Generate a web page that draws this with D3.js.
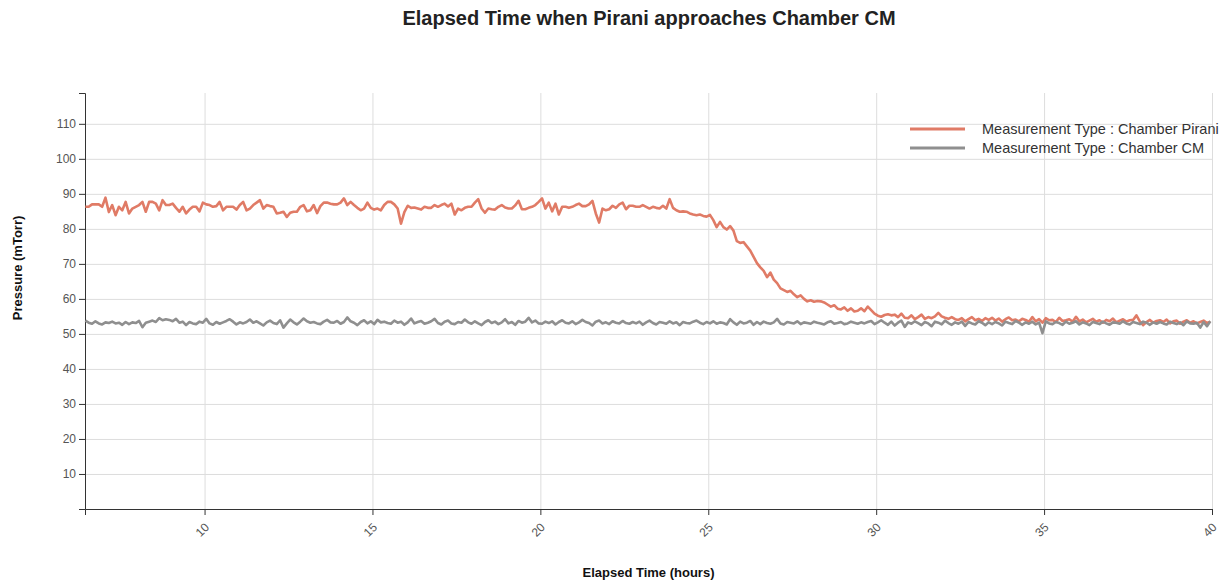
<!DOCTYPE html>
<html>
<head>
<meta charset="utf-8">
<script src="https://cdn.jsdelivr.net/npm/d3@7"></script>
<style>
  body { margin: 0; background: #fff; }
  svg { font-family: "Liberation Sans", Arial, sans-serif; }
  .grid line { stroke: #ddd; stroke-width: 1; }
  .grid path { display: none; }
  .axis text { fill: #555; font-size: 12px; }
  .axis path, .axis line { stroke: #333; }
</style>
</head>
<body>
<div id="chart"></div>
<script>
// sampling of the two measurements (hours)
let startHour = 6.45, stepHour = 0.1;

let seriesNames = ["Measurement Type : Chamber Pirani", "Measurement Type : Chamber CM"];
let seriesColors = ["#e07b66", "#8f8f8f"];

// Chamber Pirani pressure (mTorr)
let piraniValues = [
  86.3, 86.3, 87.0, 87.0, 87.0, 86.3, 88.9, 84.8, 86.8, 83.9, 86.3, 85.3, 87.7, 84.4, 85.8, 86.3, 86.8, 87.7, 84.9, 87.7,
  87.7, 87.2, 85.3, 88.2, 86.8, 86.8, 87.2, 86.0, 84.9, 86.3, 84.4, 85.5, 86.3, 86.3, 85.0, 87.5, 87.0, 86.8, 86.3, 86.5,
  87.7, 85.3, 86.3, 86.3, 86.3, 85.5, 86.8, 87.7, 85.3, 85.8, 86.8, 87.5, 88.2, 85.8, 86.8, 86.5, 86.3, 84.4, 84.6, 84.9,
  83.4, 84.6, 84.9, 84.9, 86.3, 86.8, 85.0, 85.3, 86.8, 84.5, 86.5, 87.5, 87.5, 87.2, 87.0, 87.0, 87.5, 88.7, 86.8, 87.7,
  86.8, 86.0, 85.3, 85.8, 87.5, 86.0, 85.5, 85.8, 85.3, 86.8, 87.7, 87.7, 87.0, 85.8, 81.5, 84.8, 86.6, 86.0, 86.1, 85.8,
  85.5, 86.3, 86.0, 86.0, 86.8, 86.3, 86.8, 87.2, 86.4, 87.2, 84.1, 85.8, 85.3, 86.0, 86.3, 86.3, 87.5, 88.5, 85.8, 84.6,
  85.8, 85.6, 85.5, 86.3, 86.8, 86.1, 85.8, 85.8, 86.7, 88.0, 85.6, 85.6, 86.0, 86.3, 86.8, 87.7, 88.7, 85.8, 87.5, 85.0,
  87.2, 84.1, 86.3, 86.3, 86.0, 86.3, 86.8, 87.2, 86.5, 86.5, 87.0, 88.0, 84.4, 81.8, 85.8, 85.3, 85.6, 86.6, 86.0, 87.0,
  87.5, 85.6, 86.6, 86.6, 86.3, 86.3, 86.8, 86.3, 85.8, 86.3, 86.0, 85.8, 86.6, 85.8, 88.5, 86.0, 85.3, 84.9, 85.0, 84.9,
  84.4, 84.1, 83.9, 84.1, 83.7, 83.5, 84.0, 82.5, 80.5, 82.0, 80.5, 79.8, 80.8, 79.5, 76.5, 76.0, 76.2, 75.0, 73.8, 72.0,
  70.2, 69.0, 68.0, 66.2, 67.5, 65.5, 64.5, 63.0, 62.5, 62.0, 62.3, 61.3, 60.5, 61.0, 60.0, 59.3, 59.6, 59.2, 59.4, 59.3,
  59.0, 58.4, 57.8, 58.2, 57.2, 57.0, 57.6, 56.6, 57.3, 56.4, 56.6, 57.3, 56.5, 57.8, 56.8, 55.8, 55.2, 54.9, 55.4, 55.6,
  55.3, 55.5, 54.8, 55.8, 54.6, 54.5, 55.3, 54.2, 54.8, 55.5, 54.3, 54.8, 54.5, 55.0, 56.0, 55.0, 54.6, 54.3, 54.8, 54.2,
  54.0, 54.5, 53.6, 54.2, 54.8, 53.9, 54.3, 53.7, 54.5, 54.0, 54.6, 53.8, 54.4, 53.5, 54.2, 54.7, 53.9, 54.1, 53.6, 54.3,
  54.0, 53.5, 54.8, 53.6, 54.2, 53.2, 54.5, 53.9, 54.0, 53.4, 54.6, 53.7, 53.9, 54.2, 53.5, 54.9, 53.6, 54.1, 53.3, 53.8,
  54.3, 53.5, 53.9, 53.2, 54.0, 53.6, 54.4, 53.3, 53.8, 54.2, 53.5, 53.9, 54.0, 55.3, 53.6, 52.5, 53.4, 54.0, 53.2, 53.7,
  53.9, 53.4, 54.1, 53.0, 53.6, 53.8, 52.9, 53.5, 53.9, 53.2, 53.6, 53.0, 53.4, 53.8, 53.1, 53.5
];

// Chamber CM pressure (mTorr)
let cmValues = [
  53.8, 53.2, 52.9, 53.6, 53.0, 52.7, 53.3, 53.1, 53.5, 53.0, 53.2, 52.6, 53.4, 52.8, 53.3, 53.1, 53.7, 51.9, 53.2, 53.5,
  53.8, 53.4, 54.5, 53.9, 54.2, 54.0, 53.6, 54.3, 53.2, 53.5, 52.5, 53.4, 53.0, 52.8, 53.5, 53.2, 54.3, 53.0, 52.6, 53.4,
  52.9, 53.3, 53.7, 54.2, 53.5, 52.7, 53.3, 53.0, 53.4, 54.1, 53.2, 53.6, 53.0, 52.4, 53.3, 53.8, 53.1, 52.8, 53.9, 51.8,
  53.0, 54.1, 53.3, 52.7, 53.5, 54.4, 53.6, 53.2, 53.4, 53.0, 52.8, 53.5, 54.0, 53.3, 53.2, 53.7, 52.9, 53.4, 54.7, 53.6,
  53.2, 52.5, 53.4, 53.9, 53.0, 53.6, 52.8, 54.0, 53.3, 53.5, 53.1, 52.9, 53.8, 53.2, 53.5, 52.6, 53.3, 54.4, 53.0, 53.4,
  53.7, 52.9, 53.2, 53.6, 54.3, 53.1, 52.7, 53.5, 53.8, 53.0, 52.8, 53.4, 53.2, 54.1, 53.3, 52.9, 53.6, 53.0, 52.5, 53.4,
  53.9, 53.1, 53.5, 52.8, 53.3, 54.2, 53.0, 53.4, 52.6, 53.7, 53.2, 53.5, 54.6, 53.3, 53.8, 53.0, 52.9, 53.5, 53.1, 53.6,
  52.7, 53.4, 53.9, 53.2, 53.0, 53.6, 52.8, 53.3, 54.0, 53.4, 53.1, 52.4, 53.5, 53.8, 53.0, 53.3, 52.8, 53.6, 53.2, 53.0,
  53.7, 53.1, 52.9, 53.4, 53.0, 53.5, 52.6, 53.3, 53.8, 53.1, 52.7, 53.4, 53.2, 52.9, 53.6, 53.0, 53.3, 52.5, 53.4, 53.1,
  53.0, 53.5, 53.8, 53.2, 52.8, 53.4, 53.0, 53.6, 52.9, 53.3, 53.1, 52.7, 54.2, 53.3, 52.6, 53.5, 53.0, 53.2, 53.7, 52.6,
  53.4, 52.8, 53.5, 53.1, 52.9, 53.3, 54.3, 53.0, 52.7, 53.4, 53.2, 53.0, 53.6, 52.8, 53.3, 53.1, 52.9, 53.5, 53.2, 53.0,
  52.7, 53.3, 53.6, 52.9, 53.1, 53.4, 52.8, 53.0, 53.5, 53.2, 52.9, 53.3, 53.0, 53.4, 53.7, 52.8, 53.3, 53.9, 53.2, 52.6,
  53.5, 52.4, 53.2, 53.8, 52.0, 53.3, 52.9, 53.6, 53.1, 52.5, 53.4, 53.0, 52.2, 53.5, 53.2, 52.7, 53.8, 53.1, 52.6, 53.3,
  52.9, 53.5, 52.3, 53.4, 53.0, 52.7, 53.6, 53.2, 52.5, 53.3, 52.8, 53.4, 53.0, 52.4, 53.5, 53.1, 52.8, 53.7, 53.2, 52.6,
  53.3, 52.9, 53.5, 52.7, 53.2, 50.2, 53.6, 53.0, 52.8, 53.4, 53.1, 52.6, 53.5, 52.9, 53.2, 53.6, 52.7, 53.3, 53.0, 52.5,
  53.4, 53.1, 52.8, 53.5, 53.0, 52.6, 53.3, 53.2, 52.9, 53.6, 53.0, 52.7, 53.4, 53.1, 52.8, 53.5, 53.2, 52.6, 53.3, 52.9,
  53.4, 53.0, 52.7, 53.5, 53.1, 52.8, 53.3, 52.5, 53.6, 53.0, 52.9, 53.2, 51.8, 53.4, 52.2, 53.6
];

let xTickValues = [10, 15, 20, 25, 30, 35, 40];
let yTickValues = [10, 20, 30, 40, 50, 60, 70, 80, 90, 100, 110];

// set the dimensions and margins of the graph
let margin = { top: 93, right: 14, bottom: 75, left: 85 },
  fullWidth = 1226, fullHeight = 584,
  width = fullWidth - margin.left - margin.right,
  height = fullHeight - margin.top - margin.bottom;

let svg = d3.select("#chart")
  .append("svg")
  .attr("width", fullWidth)
  .attr("height", fullHeight);

let g = svg.append("g")
  .attr("transform", "translate(" + margin.left + "," + margin.top + ")");

let x = d3.scaleLinear().domain([6.44, 40]).range([0, width]);
let y = d3.scaleLinear().domain([0, 118.8]).range([height, 0]);

// grid lines
g.append("g")
  .attr("class", "grid")
  .attr("transform", "translate(0," + height + ")")
  .call(d3.axisBottom(x).tickValues(xTickValues).tickSize(-height).tickFormat(""));
g.append("g")
  .attr("class", "grid")
  .call(d3.axisLeft(y).tickValues(yTickValues).tickSize(-width).tickFormat(""));

// axes
let xAxis = g.append("g")
  .attr("class", "axis")
  .attr("transform", "translate(0," + height + ")")
  .call(d3.axisBottom(x).tickValues(xTickValues).tickSizeOuter(6));
xAxis.selectAll("text")
  .attr("text-anchor", "end")
  .attr("x", 0).attr("y", 0).attr("dy", "0.35em")
  .attr("transform", "translate(2,16) rotate(-45)");

g.append("g")
  .attr("class", "axis")
  .call(d3.axisLeft(y).tickValues(yTickValues).tickSizeOuter(6));

// lines
let line = d3.line()
  .x(function (d, i) { return x(startHour + i * stepHour); })
  .y(function (d) { return y(d); });

[piraniValues, cmValues].forEach(function (vals, k) {
  g.append("path")
    .datum(vals)
    .attr("fill", "none")
    .attr("stroke", seriesColors[k])
    .attr("stroke-width", 2.6)
    .attr("stroke-linejoin", "round")
    .attr("d", line);
});

// title and axis labels
svg.append("text")
  .attr("x", 649).attr("y", 25)
  .attr("text-anchor", "middle")
  .style("font-size", "20px").style("font-weight", "bold").style("fill", "#222")
  .text("Elapsed Time when Pirani approaches Chamber CM");

svg.append("text")
  .attr("transform", "translate(22,268) rotate(-90)")
  .attr("text-anchor", "middle")
  .style("font-size", "13px").style("font-weight", "bold").style("fill", "#111")
  .text("Pressure (mTorr)");

svg.append("text")
  .attr("x", margin.left + width / 2).attr("y", 577)
  .attr("text-anchor", "middle")
  .style("font-size", "13px").style("font-weight", "bold").style("fill", "#111")
  .text("Elapsed Time (hours)");

// legend
let legend = svg.append("g").attr("transform", "translate(910,129)");
seriesNames.forEach(function (name, k) {
  legend.append("line")
    .attr("x1", 0).attr("x2", 55)
    .attr("y1", k * 19).attr("y2", k * 19)
    .attr("stroke", seriesColors[k]).attr("stroke-width", 3);
  legend.append("text")
    .attr("x", 72).attr("y", k * 19 + 5)
    .style("font-size", "14.5px").style("fill", "#333")
    .text(name);
});
</script>
</body>
</html>
